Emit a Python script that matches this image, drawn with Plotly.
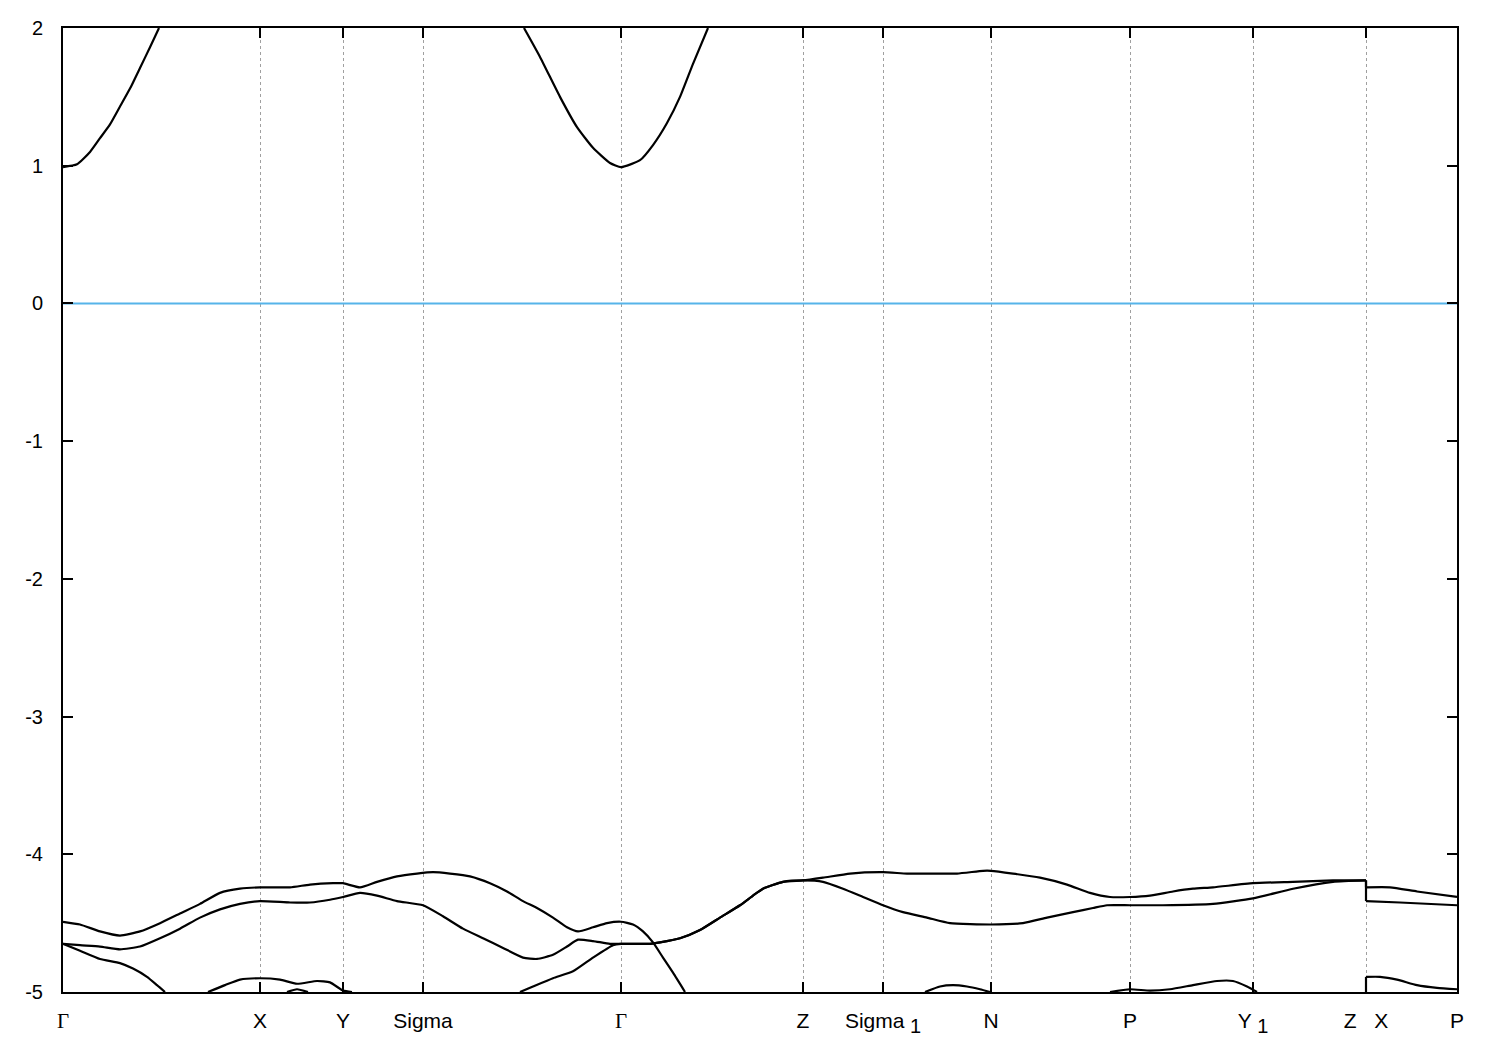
import plotly.graph_objects as go

# ---- k-path ticks (path coordinate, arbitrary units) ----
k_ticks = [0.00, 1.97, 2.80, 3.60, 5.58, 7.40, 8.20, 9.28, 10.67, 11.90, 13.03, 13.94]
GAMMA = "<span style='font-family:Liberation Serif'>\u0393</span>"
SUB1 = "<sub><span style='font-size:20px'>\u00a01</span></sub>"
k_labels = [GAMMA, "X", "Y", "Sigma", GAMMA, "Z", "Sigma" + SUB1, "N", "P",
            "Y" + SUB1, "Z\u00a0\u00a0\u00a0X", "P"]

# ---- bands (None = outside the shown energy window) ----
c1_k = [0.00, 0.14, 0.27, 0.37, 0.47, 0.57, 0.67, 0.77, 0.87, 0.96, None,
        4.61, 4.77, 4.97, 5.14, 5.30, 5.47, 5.58, 5.77, 5.90, 6.04, 6.17, 6.30, 6.45]
c1_e = [0.99, 1.01, 1.10, 1.20, 1.30, 1.43, 1.56, 1.71, 1.86, 2.00, None,
        2.00, 1.79, 1.50, 1.28, 1.13, 1.02, 0.99, 1.04, 1.15, 1.31, 1.50, 1.74, 2.00]

v1_k = [0.00, 0.17, 0.37, 0.57, 0.77, 0.97, 1.17, 1.37, 1.57, 1.77, 1.97, 2.27, 2.47, 2.70,
        2.80, 2.97, 3.14, 3.34, 3.54, 3.70, 3.87, 4.07, 4.27, 4.44, 4.60, 4.74, 4.90, 5.04,
        5.15, 5.30, 5.44, 5.58, 5.70, 5.80, 5.90, 6.00, 6.10, 6.22]
v1_e = [-4.49, -4.51, -4.56, -4.59, -4.56, -4.50, -4.43, -4.36, -4.28, -4.25, -4.24, -4.24,
        -4.22, -4.21, -4.21, -4.24, -4.20, -4.16, -4.14, -4.13, -4.14, -4.16, -4.21, -4.27,
        -4.34, -4.39, -4.46, -4.53, -4.56, -4.53, -4.50, -4.49, -4.51, -4.56, -4.64, -4.75,
        -4.86, -5.00]

v2_k = [0.00, 0.17, 0.37, 0.57, 0.77, 0.97, 1.17, 1.37, 1.57, 1.77, 1.97, 2.27, 2.47, 2.67,
        2.80, 2.97, 3.14, 3.34, 3.60, 3.80, 4.00, 4.20, 4.40, 4.60, 4.74, 4.90, 5.04, 5.15,
        5.30, 5.47, 5.58, 5.87, 5.97, 6.17, 6.37, 6.57, 6.77, 6.90, 7.00, 7.20, 7.40, 7.60,
        7.87, 8.20, 8.44, 8.67, 8.94, 9.20, 9.28, 9.50, 9.77, 10.04, 10.27, 10.47, 10.67,
        10.87, 11.10, 11.30, 11.50, 11.90, 12.30, 12.70, 13.03, None,
        13.03, 13.27, 13.54, 13.94]
v2_e = [-4.65, -4.66, -4.67, -4.69, -4.67, -4.61, -4.54, -4.46, -4.40, -4.36, -4.34, -4.35,
        -4.35, -4.33, -4.31, -4.28, -4.30, -4.34, -4.37, -4.45, -4.54, -4.61, -4.68, -4.75,
        -4.76, -4.73, -4.67, -4.62, -4.63, -4.65, -4.65, -4.65, -4.64, -4.61, -4.55, -4.46,
        -4.37, -4.30, -4.25, -4.20, -4.19, -4.17, -4.14, -4.13, -4.14, -4.14, -4.14, -4.12,
        -4.12, -4.14, -4.17, -4.22, -4.28, -4.31, -4.31, -4.30, -4.27, -4.25, -4.24, -4.21,
        -4.20, -4.19, -4.19, None,
        -4.24, -4.24, -4.27, -4.31]

v3_k = [0.00, 0.17, 0.37, 0.57, 0.70, 0.84, 0.94, 1.02, None,
        4.57, 4.70, 4.90, 5.10, 5.30, 5.50, 5.58, 5.87, 5.97, 6.17, 6.37, 6.57, 6.77, 6.90,
        7.00, 7.20, 7.40, 7.60, 7.80, 8.00, 8.20, 8.40, 8.64, 8.87, 9.28, 9.60, 9.84, 10.10,
        10.30, 10.44, 10.67, 11.00, 11.50, 11.90, 12.30, 12.70, 13.03, None,
        13.03, 13.37, 13.94]
v3_e = [-4.65, -4.70, -4.76, -4.79, -4.83, -4.89, -4.95, -5.00, None,
        -5.00, -4.96, -4.90, -4.85, -4.75, -4.66, -4.65, -4.65, -4.64, -4.61, -4.55, -4.46,
        -4.37, -4.30, -4.25, -4.20, -4.19, -4.20, -4.25, -4.31, -4.37, -4.42, -4.46, -4.50,
        -4.51, -4.50, -4.46, -4.42, -4.39, -4.37, -4.37, -4.37, -4.36, -4.32, -4.25, -4.20,
        -4.19, None,
        -4.34, -4.35, -4.37]

v4_k = [1.45, 1.62, 1.77, 1.97, 2.17, 2.34, 2.54, 2.67, 2.80, 2.89, None,
        8.62, 8.77, 8.90, 9.04, 9.17, 9.27, None,
        10.47, 10.67, 10.87, 11.07, 11.30, 11.54, 11.70, 11.84, 11.94, None,
        13.03, 13.17, 13.34, 13.54, 13.74, 13.94]
v4_e = [-5.00, -4.95, -4.91, -4.90, -4.91, -4.94, -4.92, -4.93, -4.99, -5.00, None,
        -5.00, -4.96, -4.95, -4.96, -4.98, -5.00, None,
        -5.00, -4.98, -4.99, -4.98, -4.95, -4.92, -4.92, -4.96, -5.00, None,
        -4.89, -4.89, -4.91, -4.95, -4.97, -4.98]

v5_k = [2.24, 2.34, 2.45]
v5_e = [-5.00, -4.98, -5.00]

# vertical jumps at the Z|X path discontinuity
jump_k = [13.03, 13.03, None, 13.03, 13.03, None, 13.03, 13.03]
jump_e = [-4.19, -4.24, None, -4.19, -4.34, None, -5.00, -4.89]

fermi_k = [0.00, 13.94]
fermi_e = [0.0, 0.0]

bands = [(c1_k, c1_e), (v1_k, v1_e), (v2_k, v2_e), (v3_k, v3_e), (v4_k, v4_e), (v5_k, v5_e)]

fig = go.Figure()
for kk, ee in bands:
    fig.add_trace(go.Scatter(x=kk, y=ee, mode="lines", connectgaps=False,
                             line=dict(color="black", width=2.2, shape="spline", smoothing=0.5),
                             hoverinfo="skip"))
fig.add_trace(go.Scatter(x=jump_k, y=jump_e, mode="lines", connectgaps=False,
                         line=dict(color="black", width=2.2), hoverinfo="skip"))
fig.add_trace(go.Scatter(x=fermi_k, y=fermi_e, mode="lines",
                         line=dict(color="#56b4e9", width=2), hoverinfo="skip"))

fig.update_layout(
    width=1500, height=1050,
    margin=dict(l=63, r=43, t=28, b=58),
    plot_bgcolor="white", paper_bgcolor="white",
    showlegend=False,
    font=dict(family="Liberation Sans, Arial, sans-serif", color="black", size=20),
)
fig.update_xaxes(
    range=[0, 13.94], tickmode="array", tickvals=k_ticks, ticktext=k_labels,
    ticks="inside", ticklen=10, tickwidth=1.5, tickcolor="black",
    showline=True, linecolor="black", linewidth=2, mirror="ticks",
    showgrid=True, gridcolor="#a0a0a0", gridwidth=1, griddash="3px,3px",
    zeroline=False, tickfont=dict(size=21), ticklabelstandoff=9,
)
fig.update_yaxes(
    range=[-5, 2], tickmode="array", tickvals=[-5, -4, -3, -2, -1, 0, 1, 2],
    ticktext=["-5", "-4", "-3", "-2", "-1", "0", "1", "2"],
    ticks="inside", ticklen=10, tickwidth=1.5, tickcolor="black",
    showline=True, linecolor="black", linewidth=2, mirror="ticks",
    showgrid=False, zeroline=False, tickfont=dict(size=20), ticklabelstandoff=14,
)

fig.write_html("out.html", config={"displayModeBar": False},
               post_script="document.body.style.margin='0';document.body.style.overflow='hidden';")
